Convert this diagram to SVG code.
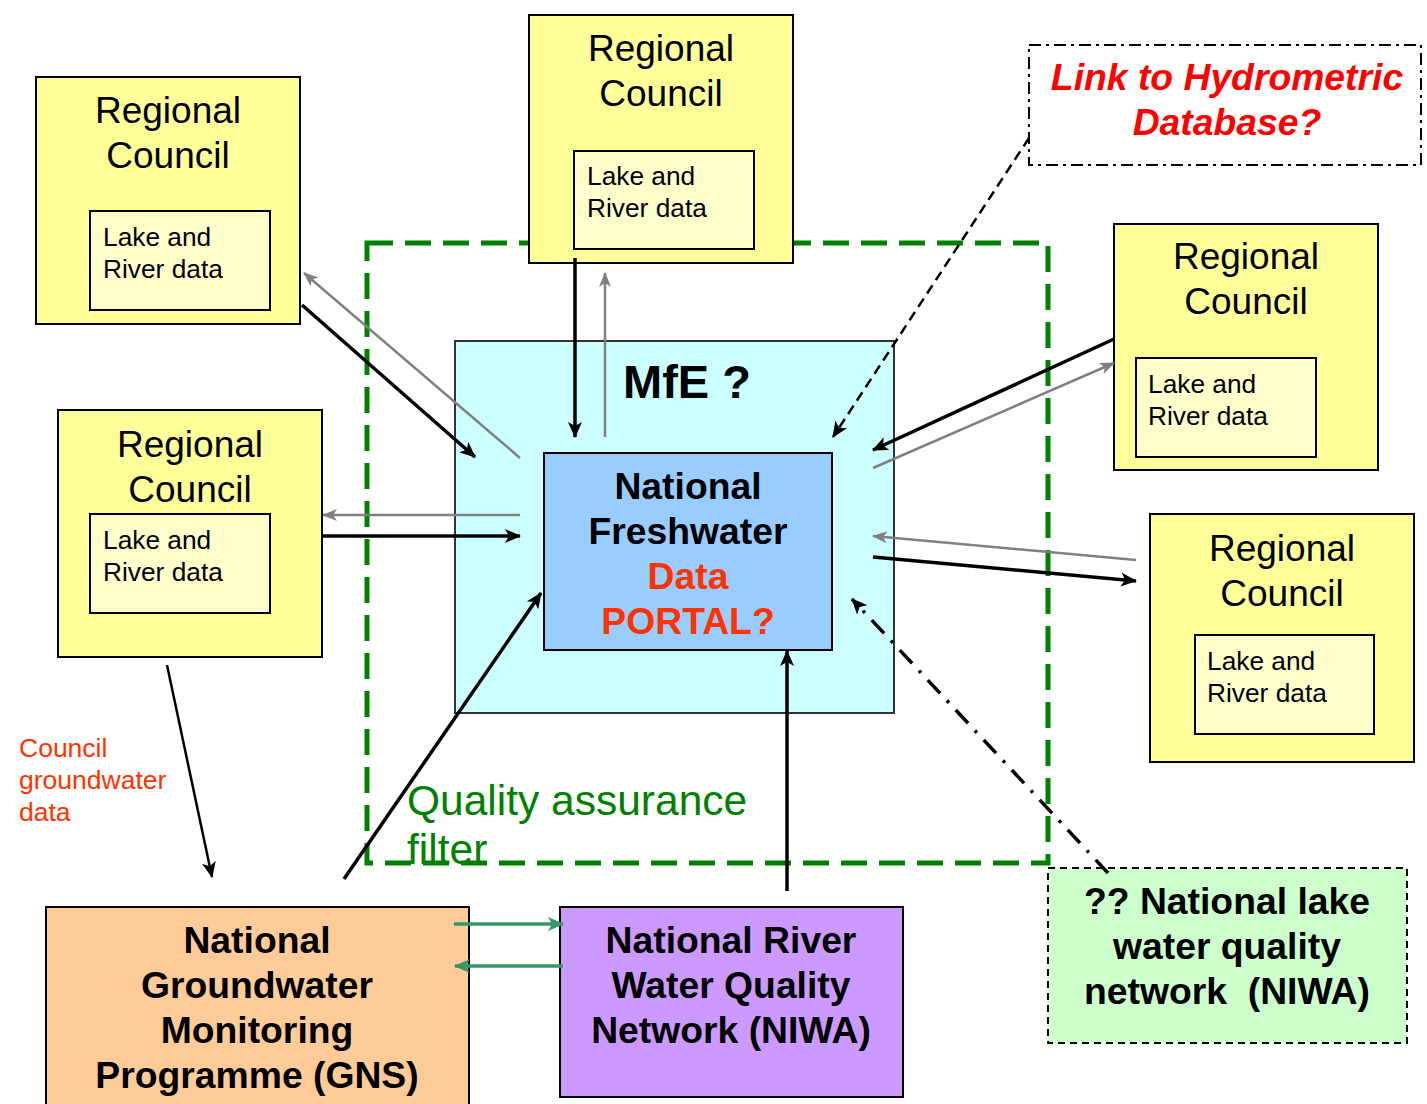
<svg xmlns="http://www.w3.org/2000/svg" width="1427" height="1104" viewBox="0 0 1427 1104">
<defs>
<style>
.rc{fill:#FFFF99;stroke:#000;stroke-width:2}
.inner{fill:#FFFFCC;stroke:#000;stroke-width:2}
.t1{font-family:"Liberation Sans",Arial,sans-serif;font-size:37px;fill:#000;text-anchor:middle}
.t2{font-family:"Liberation Sans",Arial,sans-serif;font-size:26.3px;fill:#000}
.b{font-family:"Liberation Sans",Arial,sans-serif;font-weight:bold;font-size:37.3px;text-anchor:middle;fill:#000}
.blk{stroke:#000;stroke-width:3.5;fill:none;marker-end:url(#ab)}
.gry{stroke:#808080;stroke-width:2.5;fill:none;marker-end:url(#ag)}
.grn{stroke:#339966;stroke-width:3.5;fill:none;marker-end:url(#agr)}
.cg{font-family:"Liberation Sans",Arial,sans-serif;font-size:26.5px;fill:#FF3300}
</style>
<marker id="ab" viewBox="0 0 16 14" refX="15" refY="7" markerWidth="16" markerHeight="14" markerUnits="userSpaceOnUse" orient="auto"><path d="M0,0 L16,7 L0,14 L4,7 z" fill="#000"/></marker>
<marker id="ag" viewBox="0 0 15 12" refX="14" refY="6" markerWidth="15" markerHeight="12" markerUnits="userSpaceOnUse" orient="auto"><path d="M0,0 L15,6 L0,12 L4,6 z" fill="#808080"/></marker>
<marker id="agr" viewBox="0 0 16 14" refX="15" refY="7" markerWidth="16" markerHeight="14" markerUnits="userSpaceOnUse" orient="auto"><path d="M0,0 L16,7 L0,14 L4,7 z" fill="#339966"/></marker>
</defs>
<rect width="1427" height="1104" fill="#fff"/>

<g id="qa-filter">
<rect x="367" y="243" width="681" height="620" fill="none" stroke="#008000" stroke-width="5" stroke-dasharray="26,12"/>
<text x="407" y="815" font-family="Liberation Sans,Arial,sans-serif" font-size="42.5" fill="#008000">Quality assurance</text>
<text x="407" y="864" font-family="Liberation Sans,Arial,sans-serif" font-size="42.5" fill="#008000">filter</text>
</g>

<g id="mfe">
<rect x="455" y="341" width="439" height="372" fill="#CCFFFF" stroke="#333" stroke-width="2"/>
<text x="687" y="398" class="b" style="font-size:47px">MfE ?</text>
</g>

<g id="portal">
<rect x="544" y="453" width="288" height="197" fill="#99CCFF" stroke="#000" stroke-width="2"/>
<text x="688" y="499" class="b">National</text>
<text x="688" y="544" class="b">Freshwater</text>
<text x="688" y="589" class="b" style="fill:#FF3300">Data</text>
<text x="688" y="634" class="b" style="fill:#FF3300">PORTAL?</text>
</g>

<g id="rc1">
<rect class="rc" x="36" y="77" width="264" height="247"/>
<text class="t1" x="168" y="123">Regional</text>
<text class="t1" x="168" y="168">Council</text>
<rect class="inner" x="90" y="211" width="180" height="99"/>
<text class="t2" x="103" y="246">Lake and</text>
<text class="t2" x="103" y="278">River data</text>
</g>

<g id="rc2">
<rect class="rc" x="529" y="15" width="264" height="248"/>
<text class="t1" x="661" y="61">Regional</text>
<text class="t1" x="661" y="106">Council</text>
<rect class="inner" x="574" y="151" width="180" height="98"/>
<text class="t2" x="587" y="185">Lake and</text>
<text class="t2" x="587" y="217">River data</text>
</g>

<g id="rc3">
<rect class="rc" x="1114" y="224" width="264" height="246"/>
<text class="t1" x="1246" y="269">Regional</text>
<text class="t1" x="1246" y="314">Council</text>
<rect class="inner" x="1136" y="358" width="180" height="99"/>
<text class="t2" x="1148" y="393">Lake and</text>
<text class="t2" x="1148" y="425">River data</text>
</g>

<g id="rc4">
<rect class="rc" x="58" y="410" width="264" height="247"/>
<text class="t1" x="190" y="457">Regional</text>
<text class="t1" x="190" y="502">Council</text>
<rect class="inner" x="90" y="514" width="180" height="99"/>
<text class="t2" x="103" y="549">Lake and</text>
<text class="t2" x="103" y="581">River data</text>
</g>

<g id="rc5">
<rect class="rc" x="1150" y="514" width="264" height="248"/>
<text class="t1" x="1282" y="561">Regional</text>
<text class="t1" x="1282" y="606">Council</text>
<rect class="inner" x="1195" y="635" width="179" height="99"/>
<text class="t2" x="1207" y="670">Lake and</text>
<text class="t2" x="1207" y="702">River data</text>
</g>

<g id="hydrometric">
<rect x="1029" y="45" width="392" height="120" fill="#fff" stroke="#000" stroke-width="2" stroke-dasharray="12,5,3,5"/>
<text x="1227" y="90" font-family="Liberation Sans,Arial,sans-serif" font-weight="bold" font-style="italic" font-size="37.3" fill="#FF0000" text-anchor="middle">Link to Hydrometric</text>
<text x="1227" y="135" font-family="Liberation Sans,Arial,sans-serif" font-weight="bold" font-style="italic" font-size="37.3" fill="#FF0000" text-anchor="middle">Database?</text>
</g>

<g id="gns">
<rect x="46" y="907" width="423" height="200" fill="#FFCC99" stroke="#000" stroke-width="2"/>
<text class="b" x="257" y="953">National</text>
<text class="b" x="257" y="998">Groundwater</text>
<text class="b" x="257" y="1043">Monitoring</text>
<text class="b" x="257" y="1088">Programme (GNS)</text>
</g>

<g id="niwa-river">
<rect x="560" y="907" width="343" height="190" fill="#CC99FF" stroke="#000" stroke-width="2"/>
<text class="b" x="731" y="953">National River</text>
<text class="b" x="731" y="998">Water Quality</text>
<text class="b" x="731" y="1043">Network (NIWA)</text>
</g>

<g id="niwa-lake">
<rect x="1048" y="868" width="359" height="175" fill="#CCFFCC" stroke="#000" stroke-width="2" stroke-dasharray="7,5"/>
<text class="b" x="1227" y="914">?? National lake</text>
<text class="b" x="1227" y="959">water quality</text>
<text class="b" x="1227" y="1004" xml:space="preserve">network  (NIWA)</text>
</g>

<g id="groundwater-label">
<text class="cg" x="19" y="757">Council</text>
<text class="cg" x="19" y="789">groundwater</text>
<text class="cg" x="19" y="821">data</text>
</g>

<g id="connectors">
<line class="blk" x1="302" y1="305" x2="475" y2="457"/>
<line class="gry" x1="520" y1="458" x2="304" y2="273"/>
<line class="blk" x1="575" y1="258" x2="575" y2="437"/>
<line class="gry" x1="605" y1="437" x2="605" y2="273"/>
<line class="gry" x1="520" y1="515" x2="323" y2="515"/>
<line class="blk" x1="323" y1="536" x2="520" y2="536"/>
<line class="blk" x1="1114" y1="339" x2="873" y2="450"/>
<line class="gry" x1="873" y1="468" x2="1114" y2="363"/>
<line class="gry" x1="1136" y1="560" x2="873" y2="536"/>
<line class="blk" x1="873" y1="557" x2="1136" y2="581"/>
<line x1="1029" y1="138" x2="833" y2="437" stroke="#000" stroke-width="2.5" stroke-dasharray="10,6" marker-end="url(#ab)"/>
<line x1="1108" y1="873" x2="852" y2="599" stroke="#000" stroke-width="3.5" stroke-dasharray="18,10,3,10" marker-end="url(#ab)"/>
<line class="blk" x1="344" y1="879" x2="541" y2="593"/>
<line class="blk" x1="787" y1="891" x2="787" y2="651"/>
<line x1="167" y1="665" x2="212" y2="877" stroke="#000" stroke-width="2.5" marker-end="url(#ab)"/>
<line class="grn" x1="454" y1="924" x2="563" y2="924"/>
<line class="grn" x1="563" y1="966" x2="455" y2="966"/>
</g>
</svg>
